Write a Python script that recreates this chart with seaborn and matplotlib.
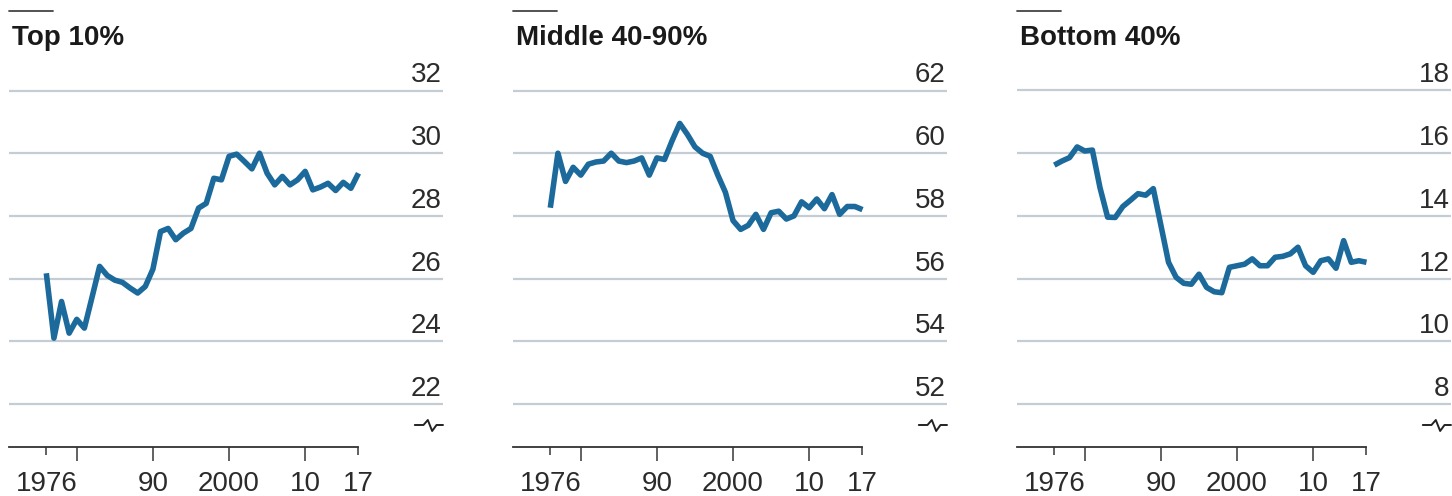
import matplotlib
matplotlib.use("Agg")
import matplotlib.pyplot as plt
import seaborn as sns
import pandas as pd
from matplotlib.lines import Line2D
from matplotlib.font_manager import fontManager

# ---------------- data ----------------
years = list(range(1976, 2018))

top10 = [26.17, 24.10, 25.27, 24.26, 24.70, 24.42, 25.40, 26.39, 26.10, 25.95,
         25.88, 25.70, 25.54, 25.75, 26.30, 27.50, 27.60, 27.24, 27.45, 27.60,
         28.25, 28.40, 29.20, 29.15, 29.90, 29.97, 29.74, 29.50, 30.00, 29.36,
         28.99, 29.26, 28.99, 29.15, 29.42, 28.83, 28.92, 29.04, 28.81, 29.07,
         28.88, 29.36]

middle4090 = [58.26, 60.00, 59.10, 59.55, 59.30, 59.65, 59.72, 59.75, 60.00, 59.75,
              59.70, 59.75, 59.85, 59.30, 59.85, 59.80, 60.40, 60.95, 60.60, 60.20,
              60.00, 59.90, 59.30, 58.75, 57.85, 57.57, 57.70, 58.05, 57.57, 58.10,
              58.15, 57.90, 58.00, 58.45, 58.26, 58.54, 58.23, 58.68, 58.05, 58.30,
              58.30, 58.20]

bottom40 = [15.62, 15.75, 15.86, 16.20, 16.07, 16.10, 14.90, 13.96, 13.95, 14.30,
            14.50, 14.71, 14.66, 14.87, 13.70, 12.52, 12.04, 11.85, 11.82, 12.14,
            11.72, 11.58, 11.55, 12.36, 12.41, 12.46, 12.63, 12.41, 12.41, 12.68,
            12.71, 12.79, 13.00, 12.41, 12.20, 12.57, 12.63, 12.33, 13.21, 12.52,
            12.57, 12.52]

titles = ["Top 10%", "Middle 40-90%", "Bottom 40%"]
yticks_top = [22, 24, 26, 28, 30, 32]
yticks_mid = [52, 54, 56, 58, 60, 62]
yticks_bot = [8, 10, 12, 14, 16, 18]
xtick_pos = [1976, 1980, 1990, 2000, 2010, 2017]
xtick_labels = ["1976", "", "90", "2000", "10", "17"]

# ---------------- style ----------------
sns.set_theme(style="white")
narrow = "Liberation Sans Narrow"
names = {f.name for f in fontManager.ttflist}
tick_family = [narrow, "Liberation Sans", "DejaVu Sans"] if narrow in names else ["Liberation Sans", "DejaVu Sans"]
plt.rcParams["font.family"] = tick_family

LINE = "#1b6a9b"
GRID = "#c4cdd3"
TEXT = "#2b2b2b"

W, H = 1452, 496
fig = plt.figure(figsize=(W / 100, H / 100), dpi=100)
fig.patch.set_facecolor("white")

lefts_px = [9, 513, 1017]
width_px = 434
bottom_px = 447   # x-axis line (from top)
top_px = 85

series = [top10, middle4090, bottom40]
yticks_all = [yticks_top, yticks_mid, yticks_bot]
px_per_unit = 31.35
xlim = (1971.1, 2028.1)

for i in range(3):
    l = lefts_px[i] / W
    b = 1 - bottom_px / H
    h = (bottom_px - top_px) / H
    ax = fig.add_axes([l, b, width_px / W, h])
    df = pd.DataFrame({"year": years, "value": series[i]})
    sns.lineplot(data=df, x="year", y="value", ax=ax, color=LINE, linewidth=4.0,
                 solid_joinstyle="round", solid_capstyle="butt", zorder=5)

    yt = yticks_all[i]
    lowest = yt[0]
    span = (bottom_px - top_px) / px_per_unit
    ymin = lowest - 43 / px_per_unit
    ax.set_ylim(ymin, ymin + span)
    ax.set_xlim(*xlim)

    ax.set_yticks(yt)
    ax.yaxis.grid(True, color=GRID, linewidth=1.6)
    ax.xaxis.grid(False)
    ax.set_axisbelow(True)
    ax.tick_params(axis="y", length=0, left=False, right=False,
                   labelleft=False, labelright=False)
    for v in yt:
        ax.annotate(str(v), xy=(1, v), xycoords=("axes fraction", "data"),
                    xytext=(-1, 1.5), textcoords="offset points",
                    ha="right", va="bottom", fontsize=20, color=TEXT,
                    family=tick_family, annotation_clip=False)

    # spines
    for s in ["top", "right", "left"]:
        ax.spines[s].set_visible(False)
    ax.spines["bottom"].set_visible(True)
    ax.spines["bottom"].set_color("#333333")
    ax.spines["bottom"].set_linewidth(1.3)
    ax.spines["bottom"].set_bounds(xlim[0], 2017)

    ax.set_xticks(xtick_pos)
    ax.set_xticklabels(xtick_labels)
    ax.tick_params(axis="x", bottom=True, top=False, direction="out", length=10,
                   width=1.3, color="#555555", pad=7, labelsize=20, labelcolor=TEXT)
    ticks = ax.xaxis.get_major_ticks()
    ticks[0].tick1line.set_markersize(5.5)
    ticks[-1].tick1line.set_markersize(5.5)
    ax.set_xlabel("")
    ax.set_ylabel("")

    # axis break symbol below lowest gridline
    bx = [0.935, 0.955, 0.965, 0.975, 0.985, 1.0]
    by_off = [0, 0, 5, -6, 0, 0]
    y0 = (bottom_px - 425) / (bottom_px - top_px)
    dy = 1 / (bottom_px - top_px)
    ax.add_line(Line2D(bx, [y0 + d * dy for d in by_off], transform=ax.transAxes,
                       color="#222222", linewidth=1.4, clip_on=False))

    # title and short rule above it
    fig.text(l + 3 / W, 1 - 45 / H, titles[i], fontsize=20, fontweight="bold",
             color="#1a1a1a", ha="left", va="baseline",
             family=["Liberation Sans", "DejaVu Sans"])
    fig.add_artist(Line2D([l, l + 44 / W], [1 - 11 / H, 1 - 11 / H],
                          transform=fig.transFigure, color="#444444", linewidth=1.3))

fig.savefig("out.png", dpi=100, facecolor="white")
